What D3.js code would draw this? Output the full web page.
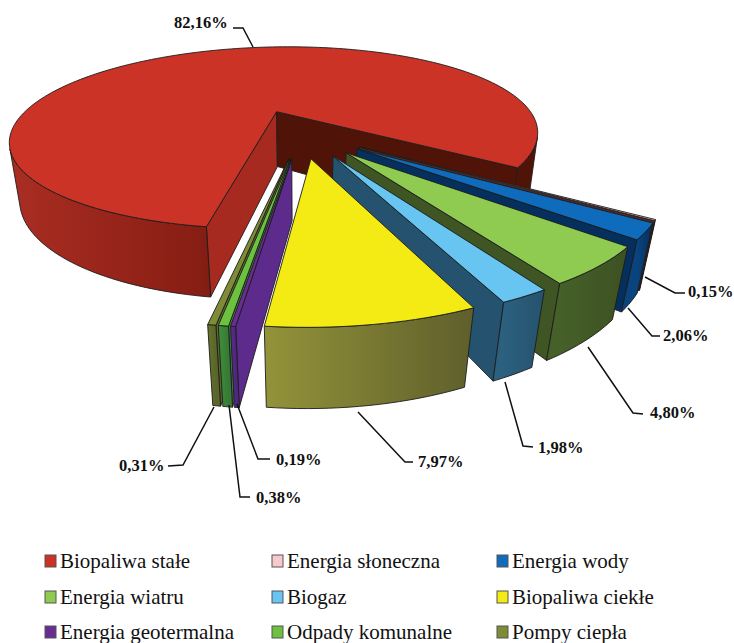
<!DOCTYPE html>
<html lang="pl">
<head>
<meta charset="utf-8">
<title>Struktura energii odnawialnej</title>
<script src="https://cdn.jsdelivr.net/npm/d3@7/dist/d3.min.js"></script>
<style>
  html, body { margin: 0; background: #fff; }
  svg { display: block; }
  text { font-family: "Liberation Serif", serif; fill: #111; }
</style>
</head>
<body>
<svg id="chart" width="734" height="643"></svg>
<script>
// Udział źródeł energii odnawialnej [%]
const categories = ["Biopaliwa stałe", "Energia słoneczna", "Energia wody", "Energia wiatru", "Biogaz",
                    "Biopaliwa ciekłe", "Energia geotermalna", "Odpady komunalne", "Pompy ciepła"];
const shares = [82.16, 0.15, 2.06, 4.80, 1.98, 7.97, 0.19, 0.38, 0.31];

const topColors  = ["#cb3327", "#f7c9cd", "#0f6cbd", "#8fcb50", "#68c5f1", "#f4ea14", "#6a2c91", "#6cc23e", "#7f8c36"];
const wallColors = ["#4f1407", "#4a2a28", "#052f5c", "#3f5523", "#25526e", "#6d6d2e", "#5c2b8c", "#3b8a3a", "#5d692b"];
const rimColors  = [["#aa2d22", "#8a1f15", "#4f1407", "#4f1407"], ["#4a2a28", "#3a2020"], ["#0a447f", "#052f5c"],
                    ["#46602a", "#3c5122"], ["#2c607f", "#25526e"], ["#93933a", "#5f5f2c"],
                    ["#5c2b8c", "#4f2680"], ["#3f8f3c", "#367a35"], ["#68742f", "#5a6529"]];
const redStartWall = "#a62a1f";

// Kolejność rysowania: od ścian najdalszych do najbliższych
const drawOrder = [0, 8, 7, 6, 1, 2, 3, 4, 5];

// Odnośniki etykiet: początek, załamanie, koniec linii oraz punkt tekstu
const labelLayout = [
  { line: [[253, 47], [243, 28], [233, 28]], at: [174, 28] },
  { line: [[645, 277], [675, 293], [685, 293]], at: [688, 297] },
  { line: [[628, 308], [652, 336], [660, 336]], at: [663, 341] },
  { line: [[505, 382], [523, 446], [533, 447]], at: [538, 453] },
  { line: [[237, 404], [258, 459], [270, 459]], at: [276, 465] },
  { line: [[229, 405], [240, 497], [250, 497]], at: [256, 503] },
  { line: [[214, 407], [183, 465], [168, 466]], at: [119, 471] },
  { line: [[358, 412], [405, 462], [413, 462]], at: [418, 467] },
  { line: [[588, 347], [633, 413], [643, 414]], at: [650, 418] }
];
const labelSlices = [0, 1, 2, 4, 6, 7, 8, 5, 3];

// Rzut perspektywiczny: X w prawo, Y do widza, h = 1 na dolnej krawędzi
const camera = { cx: 301, cy: 132.6, A: 271, T: 10, S: 6, B: 95.7, k: 0.306, j: 0.015, C: 60, m: 0.036 };
const explode = 0.255;
const smallSpan = shares.slice(1).reduce((a, b) => a + b, 0) / 100 * 2 * Math.PI;
const smallStart = 37.8 * Math.PI / 180;   // kierunek pierwszego małego wycinka

function project(X, Y, h) {
  const w = 1 - camera.k * Y + camera.j * X + camera.m * h;
  return [
    camera.cx + (camera.A * X + camera.T * Y) / w,
    camera.cy + (camera.B * Y - camera.S * X + camera.C * h) / w
  ];
}

const pieStart = smallStart + smallSpan + Math.PI / 2;
const arcs = d3.pie().sort(null).startAngle(pieStart).endAngle(pieStart + 2 * Math.PI)(shares);

const svg = d3.select("#chart");
const defs = svg.append("defs");
const outline = { stroke: "#1c1c1c", width: 0.9 };
const pathOf = d3.line().curve(d3.curveLinearClosed);

function polygon(g, pts, fill) {
  g.append("path").attr("d", pathOf(pts)).attr("fill", fill)
    .attr("stroke", outline.stroke).attr("stroke-width", outline.width).attr("stroke-linejoin", "round");
}
const signedArea = pts => d3.polygonArea(pts);

const pieLayer = svg.append("g");
const geometry = arcs.map(d => {
  const mid = (d.startAngle + d.endAngle) / 2;
  const ox = explode * Math.sin(mid), oy = -explode * Math.cos(mid);
  const steps = Math.max(2, Math.ceil((d.endAngle - d.startAngle) / (Math.PI / 120)));
  const angles = d3.range(steps + 1).map(s => d.startAngle + (d.endAngle - d.startAngle) * s / steps);
  return {
    apex: [ox, oy],
    rim: angles.map(a => [ox + Math.sin(a), oy - Math.cos(a)])
  };
});

drawOrder.forEach(i => {
  const g = pieLayer.append("g").attr("class", "slice");
  const { apex, rim } = geometry[i];
  const at = (p, h) => project(p[0], p[1], h);
  const radialWall = (p, fill) => ({ pts: [at(apex, 0), at(p, 0), at(p, 1), at(apex, 1)], fill });
  const first = radialWall(rim[0], i === 0 ? redStartWall : wallColors[i]);
  const last = radialWall(rim[rim.length - 1], wallColors[i]);

  // Ściany promieniowe: rysowana jest tylko ta, która jest zwrócona do widza
  if (signedArea(first.pts) > 0) polygon(g, first.pts, first.fill);
  if (signedArea(last.pts) < 0) polygon(g, last.pts, last.fill);

  // Ściana zewnętrzna: odcinki widoczne łączone w ciągłe pasy
  const runs = [];
  let run = null;
  d3.pairs(rim).forEach(([p, q]) => {
    const quad = [at(p, 0), at(q, 0), at(q, 1), at(p, 1)];
    if (signedArea(quad) > 0) {
      if (!run) { run = [p]; runs.push(run); }
      run.push(q);
    } else run = null;
  });
  const runXs = runs.flat().map(p => at(p, 0)[0]);
  if (runs.length) {
    const gradient = defs.append("linearGradient").attr("id", "rim" + i)
      .attr("gradientUnits", "userSpaceOnUse")
      .attr("x1", d3.min(runXs)).attr("x2", d3.max(runXs)).attr("y1", 0).attr("y2", 0);
    rimColors[i].forEach((c, s) => gradient.append("stop")
      .attr("offset", s / (rimColors[i].length - 1)).attr("stop-color", c));
    runs.forEach(r => {
      const pts = r.map(p => at(p, 0)).concat(r.slice().reverse().map(p => at(p, 1)));
      polygon(g, pts, `url(#rim${i})`);
    });
  }

  // Powierzchnia górna wycinka
  polygon(g, [at(apex, 0)].concat(rim.map(p => at(p, 0))), topColors[i]);
});

// Odnośniki i wartości procentowe
const percent = v => d3.format(".2f")(v).replace(".", ",") + "%";
const labels = svg.append("g").attr("class", "labels");
labelLayout.forEach((l, n) => {
  labels.append("path").attr("d", d3.line()(l.line)).attr("fill", "none")
    .attr("stroke", "#111").attr("stroke-width", 1.5);
  labels.append("text").attr("x", l.at[0]).attr("y", l.at[1])
    .attr("font-size", 16.5).attr("font-weight", "bold")
    .text(percent(shares[labelSlices[n]]));
});

// Legenda w trzech kolumnach
const legendX = d3.scaleOrdinal().domain([0, 1, 2]).range([45, 272, 497]);
const legendY = d3.scaleOrdinal().domain([0, 1, 2]).range([561, 597, 632]);
const legend = svg.append("g").attr("class", "legend");
categories.forEach((name, i) => {
  const col = i % 3, row = Math.floor(i / 3);
  legend.append("rect").attr("x", legendX(col)).attr("y", legendY(row) - 6)
    .attr("width", 11).attr("height", 12)
    .attr("fill", topColors[i]).attr("stroke", "#555").attr("stroke-width", 1);
  legend.append("text").attr("x", legendX(col) + 15).attr("y", legendY(row) + 6.5)
    .attr("font-size", 21).text(name);
});
</script>
</body>
</html>
